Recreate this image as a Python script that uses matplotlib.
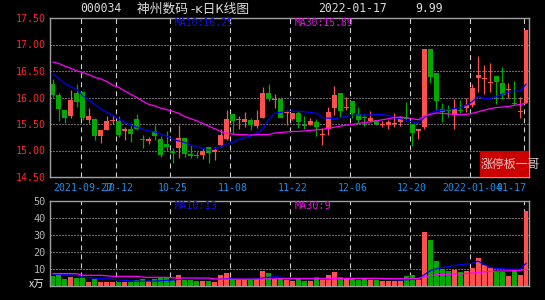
import numpy as np
import matplotlib
matplotlib.use('Agg')
import matplotlib.pyplot as plt
from matplotlib.patches import Rectangle

plt.rcParams['lines.scale_dashes'] = False

# 日K数据 (开, 高, 低, 收)
opens = [16.25, 16.04, 15.76, 15.65, 16.09, 16.10, 15.58, 15.59, 15.27, 15.38,
         15.56, 15.56, 15.37, 15.40, 15.60, 15.22, 15.18, 15.36, 15.21, 15.13,
         15.00, 15.04, 15.24, 14.93, 14.92, 14.91, 15.06, 14.98, 15.10, 15.21,
         15.68, 15.57, 15.54, 15.58, 15.46, 15.62, 16.09, 15.95, 15.97, 15.70,
         15.60, 15.70, 15.49, 15.49, 15.54, 15.30, 15.40, 15.80, 16.09, 15.81,
         15.93, 15.68, 15.63, 15.56, 15.58, 15.48, 15.48, 15.50, 15.54, 15.62,
         15.50, 15.37, 15.45, 16.92, 16.46, 15.79, 15.76, 15.68, 15.77, 15.81,
         15.85, 16.37, 16.34, 16.28, 16.40, 16.27, 16.14, 15.89, 15.72, 15.90]
highs = [16.35, 16.09, 15.76, 16.14, 16.25, 16.10, 15.80, 15.62, 15.38, 15.65,
         15.67, 15.65, 15.45, 15.48, 15.68, 15.29, 15.26, 15.49, 15.27, 15.36,
         15.04, 15.48, 15.24, 15.10, 14.99, 15.04, 15.06, 15.06, 15.41, 15.76,
         15.68, 15.65, 15.73, 15.62, 15.76, 16.20, 16.26, 16.06, 16.01, 15.76,
         15.70, 15.75, 15.65, 15.62, 15.60, 15.43, 15.82, 16.21, 16.09, 16.01,
         15.93, 15.83, 15.67, 15.75, 15.58, 15.56, 15.57, 15.70, 15.66, 15.92,
         15.50, 15.41, 16.92, 16.92, 16.46, 15.90, 15.85, 15.98, 15.95, 16.00,
         16.26, 16.79, 16.62, 16.65, 16.40, 16.57, 16.27, 16.31, 16.01, 17.28]
lows = [16.01, 15.56, 15.52, 15.62, 15.83, 15.57, 15.52, 15.20, 15.15, 15.38,
        15.50, 15.26, 15.20, 15.16, 15.38, 15.04, 15.13, 15.20, 14.88, 14.99,
        14.76, 14.86, 14.88, 14.86, 14.85, 14.84, 14.76, 14.82, 15.07, 15.20,
        15.32, 15.41, 15.45, 15.38, 15.43, 15.62, 15.93, 15.81, 15.62, 15.49,
        15.58, 15.43, 15.40, 15.48, 15.27, 15.10, 15.29, 15.67, 15.63, 15.76,
        15.62, 15.51, 15.46, 15.54, 15.48, 15.45, 15.41, 15.45, 15.47, 15.57,
        15.08, 15.21, 15.41, 16.27, 15.76, 15.54, 15.63, 15.41, 15.71, 15.73,
        15.83, 16.10, 16.07, 16.10, 15.88, 15.98, 16.00, 15.85, 15.62, 15.90]
closes = [16.04, 15.78, 15.62, 15.95, 15.92, 15.62, 15.65, 15.27, 15.38, 15.56,
          15.58, 15.29, 15.40, 15.32, 15.40, 15.20, 15.21, 15.27, 14.91, 15.07,
          14.96, 15.24, 14.94, 14.90, 14.90, 14.99, 14.96, 15.01, 15.29, 15.60,
          15.56, 15.60, 15.60, 15.48, 15.58, 16.09, 15.98, 15.97, 15.62, 15.73,
          15.70, 15.54, 15.47, 15.55, 15.45, 15.32, 15.73, 16.04, 15.74, 15.83,
          15.70, 15.58, 15.61, 15.62, 15.50, 15.50, 15.53, 15.52, 15.63, 15.59,
          15.33, 15.41, 16.92, 16.39, 15.93, 15.73, 15.74, 15.79, 15.75, 15.85,
          16.17, 16.42, 16.36, 16.30, 16.29, 16.04, 16.16, 15.87, 15.74, 17.28]
# 成交量 (万)
volumes = [5.9, 6.5, 3.9, 5.3, 4.9, 4.5, 2.4, 3.9, 2.4, 2.4,
           2.4, 2.4, 2.4, 2.4, 3.5, 3.9, 2.9, 3.9, 4.9, 4.9,
           3.5, 6.5, 3.5, 3.5, 2.9, 2.9, 2.9, 2.4, 6.5, 7.6,
           3.9, 3.9, 3.9, 3.5, 3.9, 8.8, 7.6, 3.9, 4.7, 3.5,
           2.9, 3.9, 2.9, 2.9, 5.3, 3.5, 6.5, 8.2, 5.3, 4.3,
           4.9, 3.5, 4.3, 3.5, 3.5, 2.9, 2.9, 2.9, 2.9, 5.9,
           6.5, 3.5, 31.8, 27.1, 14.7, 10.2, 8.8, 9.4, 8.2, 8.8,
           10.8, 16.5, 12.2, 10.8, 8.2, 8.2, 5.9, 9.4, 6.5, 44.1]
# 均线
ma10 = [16.44, 16.36, 16.26, 16.20, 16.15, 16.03, 15.95, 15.87, 15.78, 15.72,
        15.66, 15.59, 15.53, 15.48, 15.44, 15.40, 15.37, 15.35, 15.31, 15.27,
        15.21, 15.18, 15.15, 15.10, 15.07, 15.04, 15.01, 15.03, 15.07, 15.12,
        15.15, 15.21, 15.24, 15.27, 15.33, 15.40, 15.58, 15.70, 15.72, 15.74,
        15.74, 15.74, 15.73, 15.72, 15.70, 15.62, 15.61, 15.60, 15.62, 15.65,
        15.66, 15.67, 15.67, 15.67, 15.68, 15.68, 15.66, 15.62, 15.60, 15.57,
        15.54, 15.51, 15.62, 15.70, 15.75, 15.76, 15.77, 15.79, 15.81, 15.85,
        15.92, 16.02, 15.98, 15.98, 16.02, 16.06, 16.10, 16.12, 16.12, 16.25]
ma30 = [16.67, 16.64, 16.59, 16.55, 16.50, 16.47, 16.43, 16.38, 16.35, 16.30,
        16.23, 16.19, 16.12, 16.06, 16.00, 15.93, 15.87, 15.84, 15.80, 15.77,
        15.74, 15.70, 15.64, 15.60, 15.56, 15.51, 15.46, 15.41, 15.36, 15.32,
        15.31, 15.30, 15.30, 15.29, 15.30, 15.30, 15.30, 15.33, 15.34, 15.35,
        15.36, 15.36, 15.37, 15.38, 15.39, 15.40, 15.42, 15.44, 15.46, 15.48,
        15.49, 15.51, 15.53, 15.54, 15.56, 15.58, 15.60, 15.62, 15.63, 15.62,
        15.60, 15.58, 15.65, 15.68, 15.71, 15.70, 15.69, 15.68, 15.68, 15.68,
        15.70, 15.73, 15.76, 15.79, 15.81, 15.82, 15.83, 15.85, 15.87, 15.89]
vol_ma10 = [7.0, 6.9, 6.8, 6.5, 6.2, 5.2, 4.9, 4.6, 4.3, 4.2,
            3.9, 3.5, 3.3, 3.0, 2.9, 2.8, 2.9, 2.9, 3.1, 3.4,
            3.5, 3.9, 4.0, 4.1, 4.0, 3.9, 3.9, 3.8, 4.0, 4.2,
            4.3, 4.0, 4.0, 4.0, 4.1, 4.7, 5.2, 5.4, 5.2, 4.8,
            4.7, 4.7, 4.6, 4.5, 4.6, 4.1, 4.0, 4.4, 4.5, 4.6,
            4.8, 4.7, 4.9, 4.9, 4.8, 4.7, 4.3, 3.8, 3.6, 3.7,
            3.9, 3.9, 6.6, 9.0, 10.1, 10.8, 11.4, 12.1, 12.6, 12.9,
            13.3, 14.6, 12.7, 11.0, 10.4, 10.2, 9.9, 9.9, 9.7, 13.3]
vol_ma30 = [7.3, 7.3, 7.3, 7.3, 7.2, 6.3, 6.3, 6.3, 6.3, 6.0,
            5.7, 5.7, 5.7, 5.7, 5.7, 5.2, 5.1, 5.1, 5.1, 5.1,
            4.8, 4.7, 4.7, 4.7, 4.7, 4.7, 4.7, 4.2, 4.0, 4.0,
            4.0, 4.0, 4.0, 4.0, 4.0, 4.1, 4.2, 4.2, 4.3, 4.3,
            4.3, 4.3, 4.3, 4.3, 4.3, 4.3, 4.3, 4.4, 4.4, 4.4,
            4.4, 4.4, 4.4, 4.4, 4.4, 4.3, 4.3, 4.3, 4.3, 4.3,
            4.4, 4.4, 5.3, 6.2, 6.6, 6.8, 6.9, 7.0, 7.1, 7.3,
            7.6, 8.0, 8.3, 8.5, 8.7, 8.8, 8.9, 9.1, 9.2, 9.8]

tick_idx = [5, 11, 20, 30, 40, 50, 60, 70, 79]
tick_lab = ['2021-09-27', '10-12', '10-25', '11-08', '11-22', '12-06',
            '12-20', '2022-01-04', '01-17']

UP = '#ff5050'
DOWN = '#00aa00'
FRAME = '#a0a0a0'
MONO = 'DejaVu Sans Mono'
CJK = ['Noto Sans CJK SC', 'DejaVu Sans']

W, H = 545, 300
def fx(x):
    return x / W
def fy(y):
    return 1 - y / H

fig = plt.figure(figsize=(W / 100, H / 100), dpi=100, facecolor='black')
ax = fig.add_axes([fx(50), fy(177), (529 - 50) / W, (177 - 18) / H], facecolor='black')
axv = fig.add_axes([fx(50), fy(286), (529 - 50) / W, (286 - 201) / H], facecolor='black')

x = np.arange(len(closes))
o = np.array(opens)
c = np.array(closes)
up = c >= o
cols = np.where(up, UP, DOWN)

# 网格
for a in (ax, axv):
    for i in tick_idx:
        a.axvline(i - 0.4, color='#d0d0d0', lw=0.8, ls=(0, (3.6, 2.9)), zorder=1)
    for s in a.spines.values():
        s.set_color(FRAME)
        s.set_linewidth(1.0)
    a.set_xlim(-0.5, len(closes) - 0.5)
    a.tick_params(length=0, pad=3)
for yv in [15.0, 15.5, 16.0, 16.5, 17.0]:
    ax.axhline(yv, color='#d0d0d0', lw=0.8, ls=(0, (0.72, 1.44)), zorder=1)
for yv in [10, 20, 30, 40]:
    axv.axhline(yv, color='#d0d0d0', lw=0.8, ls=(0, (0.72, 1.44)), zorder=1)

# K线
ax.vlines(x, lows, highs, colors=cols, lw=0.9, zorder=2)
body = np.maximum(np.abs(c - o), 0.02)
ax.bar(x, body, bottom=np.minimum(o, c), width=0.83, color=cols, zorder=3)
ax.plot(x, ma10, color='#0000ff', lw=0.9, zorder=4)
ax.plot(x, ma30, color='#ff00ff', lw=0.9, zorder=4)
ax.set_ylim(14.5, 17.5)
ax.set_yticks([14.5, 15.0, 15.5, 16.0, 16.5, 17.0, 17.5])
ax.set_yticklabels(['%.2f' % v for v in ax.get_yticks()], color='#ff2828',
                   family=MONO, fontsize=7.2)
ax.set_xticks(tick_idx)
ax.set_xticklabels(tick_lab, color='#1e8fe6', family=MONO, fontsize=7.1)
ax.get_xticklabels()[-1].set_ha('right')
ax.tick_params(axis='x', pad=4)

# 成交量
axv.bar(x, volumes, width=0.83, color=cols, zorder=2)
axv.plot(x, vol_ma10, color='#0000ff', lw=0.9, zorder=4)
axv.plot(x, vol_ma30, color='#ff00ff', lw=0.9, zorder=4)
axv.set_ylim(0, 50)
axv.set_yticks([10, 20, 30, 40, 50])
axv.set_yticklabels(['10', '20', '30', '40', '50'], color='#b4b4b4',
                    family=MONO, fontsize=7.4)
axv.set_xticks([])

# 文本
fig.text(fx(80), fy(9), '000034', color='#dcdcdc', family=MONO, fontsize=8.3, va='center')
fig.text(fx(137), fy(9), '神州数码 -ĸ日K线图', color='#dcdcdc', family=CJK, fontsize=9.2, va='center')
fig.text(fx(318), fy(9), '2022-01-17', color='#dcdcdc', family=MONO, fontsize=8.3, va='center')
fig.text(fx(415), fy(9), '9.99', color='#dcdcdc', family=MONO, fontsize=8.3, va='center')
fig.text(fx(175), fy(23), 'MA10:16.25', color='#1414e6', family=MONO, fontsize=7.0, va='center')
fig.text(fx(295), fy(23), 'MA30:15.89', color='#e614e6', family=MONO, fontsize=7.0, va='center')
fig.text(fx(175), fy(206), 'MA10:13', color='#1414e6', family=MONO, fontsize=7.3, va='center')
fig.text(fx(295), fy(206), 'MA30:9', color='#e614e6', family=MONO, fontsize=7.3, va='center')
fig.text(fx(29), fy(285), 'x万', color='#e6e6e6', family=CJK, fontsize=7.5, va='center')

ax.add_patch(Rectangle((0.898, 0.0), 0.102, 0.163, transform=ax.transAxes,
                       facecolor='#cc0000', edgecolor='none', zorder=5))
fig.text(fx(481), fy(164), '涨停板一哥', color='#e0c8c8', family=CJK, fontsize=8.6, va='center')

fig.savefig('out.png', dpi=100, facecolor='black')
